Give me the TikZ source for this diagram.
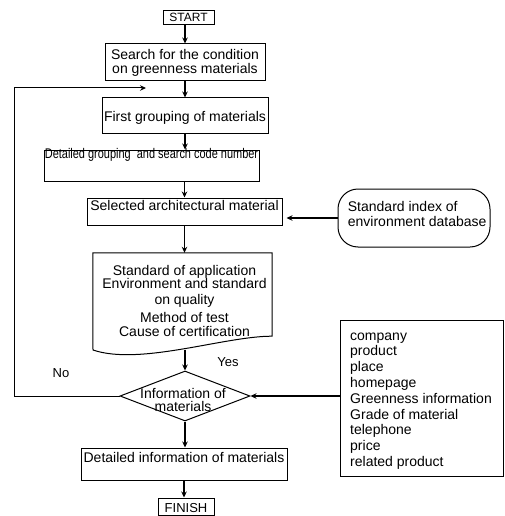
\documentclass[tikz,border=0pt]{standalone}
\usepackage{fontspec}
\usepackage{graphicx}
\setmainfont{Liberation Sans}
\usetikzlibrary{arrows.meta,shapes.geometric}

\begin{document}
\begin{tikzpicture}[x=1pt,y=-1pt,
  every node/.style={font=\fontsize{14}{16}\selectfont, inner sep=0pt},
  outline/.style={draw, line width=1pt},
  flowbox/.style={outline, anchor=base},
  arr/.style={line width=1.4pt, -{Stealth[length=6pt,width=5.5pt]}},
  thinarr/.style={line width=1pt, -{Stealth[length=6pt,width=5.5pt]}},
  textlines/.style={align=#1, font={\fontsize{14}{15}\selectfont\lineskiplimit=-100pt}}
]
\path[use as bounding box] (0,0) rectangle (504,516);

% main column of steps
\node[flowbox, minimum width=51pt, text height=11pt, text depth=3pt,
      font=\fontsize{12}{14}\selectfont] (start) at (188.5,21.5) {\makebox[0pt]{START}};

\node[outline, minimum width=160pt, minimum height=37pt, align=center,
      font={\fontsize{14}{14}\selectfont}] (search) at (185,62.5)
      {Search for the condition\\on greenness materials};

\node[flowbox, minimum width=166pt, text height=23.5pt, text depth=11.5pt] (first)
      at (185,121.5) {\makebox[0pt]{First grouping of materials}};

\node[flowbox, minimum width=215pt, text height=8.5pt, text depth=22.5pt] (detgroup)
      at (151.5,158.5) {\makebox[0pt]{\scalebox{0.783}[1]{Detailed grouping\ \ and search code number}}};

\node[flowbox, minimum width=195pt, text height=12.7pt, text depth=14.3pt] (sel)
      at (184.5,210.7) {\makebox[0pt]{Selected architectural material}};

% database of standards
\node[outline, rounded corners=20pt, minimum width=152pt, minimum height=58pt]
      (stdidx) at (414,218) {};
\node[textlines=left, anchor=north west] (stdidxtext) at (347.7,201.2)
      {\strut Standard index of\\environment database};

% document with wavy bottom edge
\node[minimum width=179pt, minimum height=83pt] (doc) at (182.5,294.5) {};
\draw[line width=1pt] (doc.north west) -- (doc.north east) -- (doc.south east)
      .. controls (225,336) and (140,366) .. (93,350) -- cycle;
\coordinate (docwave) at (185,349.5);
\node[align=center, anchor=north, font={\fontsize{14}{13}\selectfont\lineskiplimit=-100pt}]
      (doctext) at (184.5,265.2)
      {\strut Standard of application\\Environment and standard\\[3pt]on quality\\[4.7pt]Method of test\\[1.7pt]Cause of certification};

% decision
\node[outline, shape=diamond, minimum width=130pt, minimum height=50pt]
      (info) at (185,396) {};
\node[align=center, font={\fontsize{14}{13.4}\selectfont}] (infotext) at (183,400)
      {Information of\\materials};

% attribute list
\node[outline, minimum width=163pt, minimum height=156pt] (list) at (421.5,398) {};
\node[align=left, anchor=north west, font={\fontsize{14}{15.8}\selectfont}] (listtext)
      at (350,328.9)
      {\strut company\\product\\place\\homepage\\Greenness information\\Grade of material\\telephone\\price\\related product};

\node[flowbox, minimum width=206pt, text height=14.7pt, text depth=17.3pt] (detinfo)
      at (184,462.7) {\makebox[0pt]{Detailed information of materials}};

\node[flowbox, minimum width=56pt, text height=14.7pt, text depth=2.3pt,
      font=\fontsize{13}{15}\selectfont] (finish) at (186,512.7) {\makebox[0pt]{FINISH}};

% branch labels
\node[font=\fontsize{13}{15}\selectfont] (yes) at (228,362.5) {Yes};
\node[font=\fontsize{13}{15}\selectfont] (no) at (61,373) {No};

% connectors
\draw[arr] (start.south -| search.north) -- (search.north);
\draw[arr] (search.south) -- (first.north);
\draw[arr] (first.south) -- (first.south |- detgroup.north);
\draw[arr] (sel.north |- detgroup.south) -- (sel.north);
\draw[arr] (sel.south) -- (sel.south |- doc.north);
\draw[arr] (docwave) -- (info.north);
\draw[arr] (info.south) -- (info.south |- detinfo.north);
\draw[arr] (detinfo.south) -- (detinfo.south |- finish.north);
\draw[arr, shorten >=4pt] (stdidx.west) -- (stdidx.west -| sel.east);
\draw[arr] (list.west |- info.east) -- (info.east);

% feedback loop for "No"
\coordinate (loopturn) at (14,88);
\coordinate (looptip) at (146,88);
\draw[thinarr] (info.west) -| (loopturn) -- (looptip);
\end{tikzpicture}
\end{document}
